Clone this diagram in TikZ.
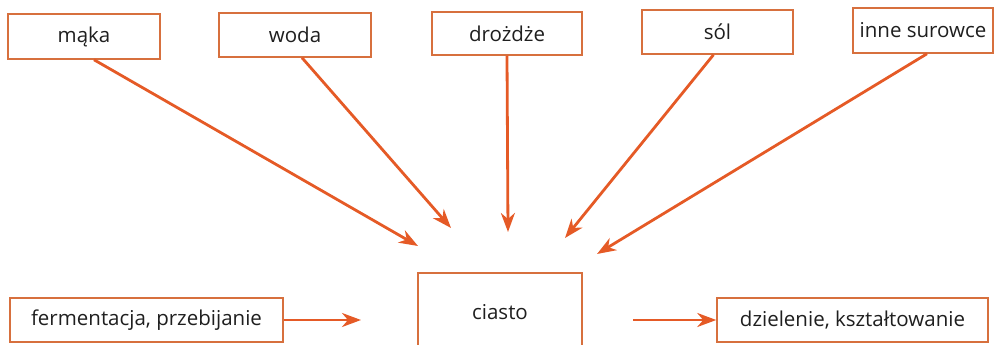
\documentclass[tikz,border=0pt]{standalone}
\usepackage{fontspec}
\setmainfont{Open Sans}
\usetikzlibrary{arrows.meta}
\definecolor{arr}{HTML}{E55A26}
\definecolor{boxc}{HTML}{D7703E}
\tikzset{
  box/.style={draw=boxc, line width=1.5pt, fill=white, inner sep=0pt, font=\fontsize{20.5}{24}\selectfont, text=black!88},
  arrow/.style={draw=arr, line width=2.8pt, -{Stealth[length=19pt,width=14pt,inset=6pt]}}
}
\begin{document}
\begin{tikzpicture}[x=1pt,y=-1pt]
\useasboundingbox (0,0) rectangle (1004,345);
\node[box, minimum width=152pt, minimum height=45pt] (maka) at (84,36.5) {mąka};
\node[box, minimum width=152pt, minimum height=44pt] (woda) at (295,35) {woda};
\node[box, minimum width=150pt, minimum height=43pt] (drozdze) at (507,33.5) {drożdże};
\node[box, minimum width=151pt, minimum height=44pt] (sol) at (717.5,32) {sól};
\node[box, minimum width=140pt, minimum height=45pt] (inne) at (923,30.5) {inne surowce};
\node[box, minimum width=273pt, minimum height=44pt] (ferm) at (146.5,320) {fermentacja, przebijanie};
\node[box, minimum width=164pt, minimum height=80pt, anchor=north] (ciasto) at (500,272) {};
\node[font=\fontsize{20.5}{24}\selectfont, text=black!88] (ciastot) at (500,312) {ciasto};
\node[box, minimum width=271pt, minimum height=44pt] (dziel) at (852.5,320) {dzielenie, kształtowanie};
\coordinate (tA) at (418,246);
\coordinate (tB) at (451,228);
\coordinate (tC) at (508,232);
\coordinate (tD) at (565,238);
\coordinate (tE) at (597,254);
\coordinate (tF) at (361,320);
\coordinate (sG) at (633,320);
\draw[arrow] ([xshift=10pt]maka.south) -- (tA);
\draw[arrow] ([xshift=7pt]woda.south) -- (tB);
\draw[arrow] ([xshift=0pt]drozdze.south) -- (tC);
\draw[arrow] ([xshift=-4pt]sol.south) -- (tD);
\draw[arrow] ([xshift=4pt]inne.south) -- (tE);
\draw[arrow] (ferm.east) -- (tF);
\draw[arrow] (sG) -- (dziel.west);
\end{tikzpicture}
\end{document}
